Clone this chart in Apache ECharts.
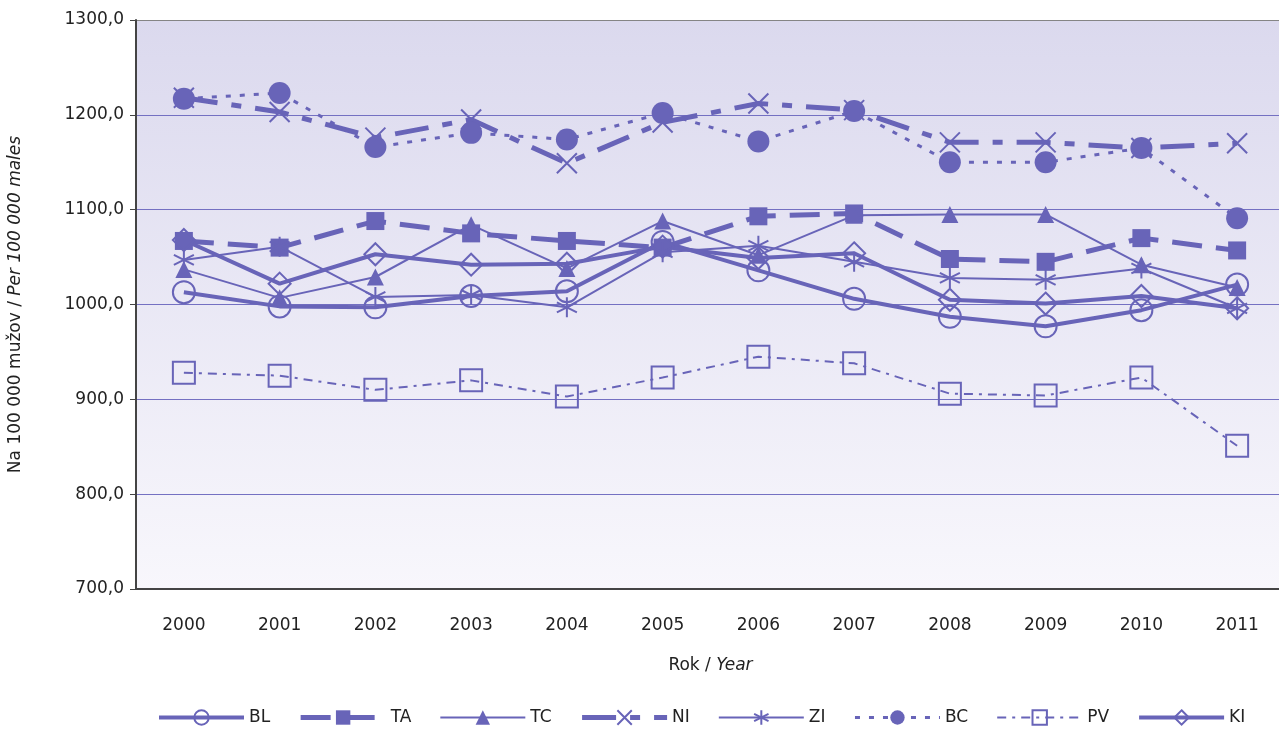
<!DOCTYPE html>
<html>
<head>
<meta charset="utf-8">
<script src="https://cdn.jsdelivr.net/npm/echarts@6/dist/echarts.min.js"></script>
<style>
  html, body { margin: 0; padding: 0; background: #fff; }
  #main { width: 1279px; height: 733px; }
</style>
</head>
<body>
<div id="main"></div>
<script>
// roky
const years = ["2000", "2001", "2002", "2003", "2004", "2005", "2006", "2007", "2008", "2009", "2010", "2011"];

// hodnoty podľa krajov
const BL = [1013, 998, 997, 1009, 1014, 1066, 1036, 1006, 987, 977, 994, 1021];
const TA = [1067, 1060, 1088, 1075, 1067, 1060, 1093, 1096, 1048, 1045, 1070, 1057];
const TC = [1037, 1007, 1029, 1084, 1038, 1088, 1052, 1094, 1095, 1095, 1042, 1018];
const NI = [1218, 1203, 1176, 1195, 1149, 1192, 1212, 1205, 1171, 1171, 1165, 1170];
const ZI = [1047, 1061, 1008, 1010, 997, 1055, 1062, 1045, 1028, 1026, 1038, 996];
const BC = [1217, 1223, 1166, 1181, 1174, 1202, 1172, 1204, 1150, 1150, 1165, 1091];
const PV = [928, 925, 910, 920, 903, 923, 945, 938, 906, 904, 923, 851];
const KI = [1068, 1022, 1053, 1042, 1043, 1061, 1049, 1054, 1005, 1001, 1009, 996];

const C = "#6864b8";
const FONT = "DejaVu Sans";

const X_PATH = "path://M0,0L10,10M10,0L0,10";
const STAR_PATH = "path://M5,0L5,10M0.7,2.5L9.3,7.5M9.3,2.5L0.7,7.5";

const styles = {
  BL: { symbol: "circle", size: 22, width: 4, open: true },
  TA: { symbol: "rect", size: 18, width: 5, dash: [30, 14] },
  TC: { symbol: "triangle", size: 17, width: 2 },
  NI: { symbol: X_PATH, size: 20, width: 5, dash: [34, 14, 10, 14], open: true },
  ZI: { symbol: STAR_PATH, size: 20, width: 2, open: true },
  BC: { symbol: "circle", size: 22, width: 3, dash: [5, 9] },
  PV: { symbol: "rect", size: 22, width: 2, dash: [9, 6, 3, 6], open: true },
  KI: { symbol: "diamond", size: 22, width: 4, open: true }
};

function itemStyleOf(opt) {
  return opt.open
    ? { color: "transparent", borderColor: C, borderWidth: 2 }
    : { color: C, borderWidth: 0 };
}

function line(name, data) {
  let opt = styles[name];
  return {
    name: name,
    type: "line",
    data: data,
    symbol: opt.symbol,
    symbolSize: opt.size,
    showAllSymbol: true,
    lineStyle: { color: C, width: opt.width, type: opt.dash || "solid" },
    itemStyle: itemStyleOf(opt),
    emphasis: { disabled: true },
    animation: false
  };
}

const names = ["BL", "TA", "TC", "NI", "ZI", "BC", "PV", "KI"];

let chart = echarts.init(document.getElementById("main"));
let option = {
  textStyle: { fontFamily: FONT },
  grid: {
    left: 136,
    top: 20,
    width: 1149,
    height: 569,
    outerBoundsMode: "none",
    containLabel: false,
    show: true,
    borderWidth: 0,
    backgroundColor: {
      type: "linear", x: 0, y: 0, x2: 0, y2: 1,
      colorStops: [
        { offset: 0, color: "#dbd9ee" },
        { offset: 1, color: "#f8f7fc" }
      ]
    }
  },
  legend: {
    left: 152,
    bottom: 2,
    itemWidth: 85,
    itemHeight: 18,
    itemGap: 28,
    textStyle: { fontFamily: FONT, fontSize: 17, color: "#222" },
    data: names.map(function (n) {
      let opt = styles[n];
      return {
        name: n,
        lineStyle: { color: C, width: opt.width, type: opt.dash || "solid" },
        itemStyle: itemStyleOf(opt)
      };
    })
  },
  xAxis: {
    type: "category",
    data: years,
    name: "Rok / {i|Year}",
    nameLocation: "middle",
    nameGap: 68,
    nameTextStyle: {
      fontFamily: FONT, fontSize: 17, color: "#222",
      rich: { i: { fontStyle: "italic", fontFamily: FONT, fontSize: 17, color: "#222" } }
    },
    axisLine: { lineStyle: { color: "#444", width: 2 } },
    axisTick: { length: 8, lineStyle: { color: "#444" } },
    axisLabel: { margin: 28, fontSize: 17, color: "#222", fontFamily: FONT }
  },
  yAxis: {
    type: "value",
    min: 700,
    max: 1300,
    interval: 100,
    name: "Na 100 000 mužov / {i|Per 100 000 males}",
    nameLocation: "middle",
    nameGap: 112,
    nameRotate: 90,
    nameTextStyle: {
      fontFamily: FONT, fontSize: 17, color: "#222",
      rich: { i: { fontStyle: "italic", fontFamily: FONT, fontSize: 17, color: "#222" } }
    },
    axisLine: { show: true, lineStyle: { color: "#444", width: 2 } },
    axisTick: { show: true, length: 6, lineStyle: { color: "#444" } },
    axisLabel: {
      margin: 12, fontSize: 17, color: "#222", fontFamily: FONT,
      formatter: function (v) { return v.toFixed(1).replace(".", ","); }
    },
    splitLine: {
      lineStyle: {
        color: ["#7470c2", "#7470c2", "#7470c2", "#7470c2", "#7470c2", "#7470c2", "#858585"],
        width: 1
      }
    }
  },
  series: names.map(function (n) {
    return line(n, { BL: BL, TA: TA, TC: TC, NI: NI, ZI: ZI, BC: BC, PV: PV, KI: KI }[n]);
  })
};
chart.setOption(option);
</script>
</body>
</html>
